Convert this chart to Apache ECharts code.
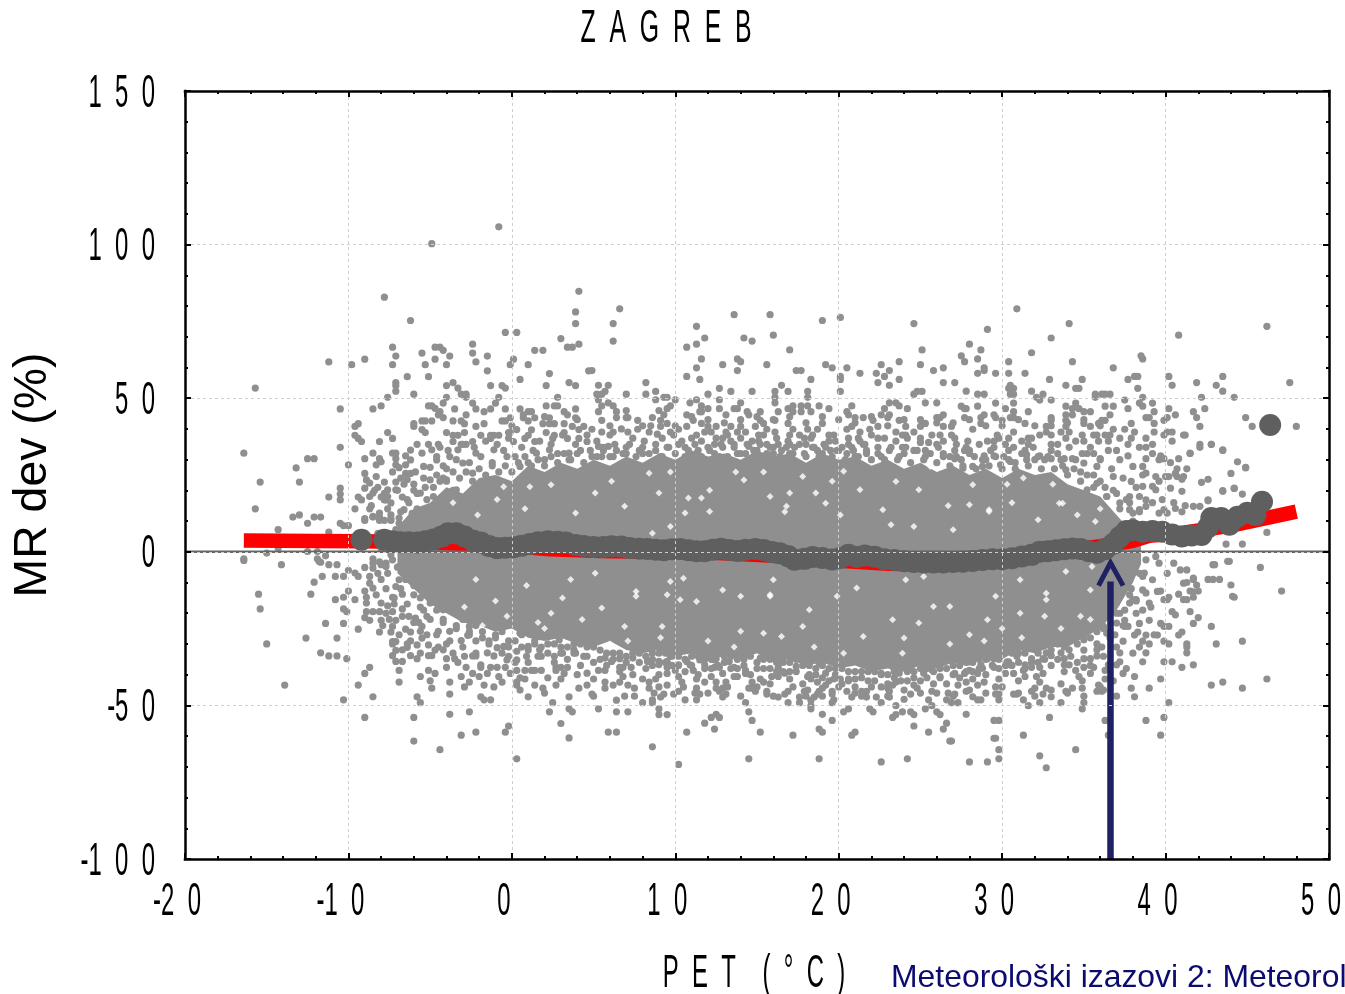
<!DOCTYPE html>
<html><head><meta charset="utf-8">
<style>html,body{margin:0;padding:0;background:#fff}#c{width:1345px;height:994px}</style>
<script src="https://cdn.jsdelivr.net/npm/echarts@6/dist/echarts.min.js"></script>
</head><body><div id="c"></div>
<script>
var titleText = 'ZAGREB';
var yAxisName = 'MR dev (%)';
var xAxisName = 'PET (°C)';
var footerText = 'Meteorološki izazovi 2: Meteorol';
var xTicks = [-20,-10,0,10,20,30,40,50];
var yTicks = [150,100,50,0,-50,-100];

var upperLeft = [-7.8,82.9,-6.2,75.3,4.1,84.8,3.9,78.1,3.9,74.3,-0.4,71.4,0.3,71.4,3.0,69.4,-2.4,67.6,4.1,67.6,3.4,66.6,3.7,66.6,-7.3,66.6,-4.7,66.6,-4.4,66.6,-4.2,65.6,-5.5,64.7,-7.1,63.7,-3.8,63.7,-2.4,64.7,-1.5,63.7,1.4,65.6,1.9,65.6,-4.7,62.7,0.1,62.7,-9.0,62.7,-11.2,61.8,-9.8,60.9,-7.3,60.9,-5.3,60.9,-4.0,60.9,-2.2,61.8,-0.1,60.9,1.0,60.9,-1.5,58.9,4.7,58.9,2.3,58,-6.4,57,-5.1,57,0.5,56.1,-7.1,55.1,-7.1,54.1,-7.1,52.3,-4,54.1,-3.6,55.1,-1.3,54.1,-0.6,54.1,-0.4,53.3,2.1,54.1,3.5,55.1,3.9,54.1,-15.7,53.3,-3.3,53.3,-3.1,51.3,-2.8,51.3,-2.8,50.3,-6,51.3,-4,50.3,-7.6,50.3,-0.8,50.3,2.8,50.3,-4.2,48.4,-2.4,48.4,-1,48.4,-8,47.5,-8.5,46.5,-10.5,46.5,-5.1,47.5,-4.9,47.5,-4.7,46.7,-3.5,46.5,-2.2,46.5,-1.7,45.6,-1.3,46.5,-0.4,46.5,0.5,46.5,2.1,47.5,2.6,47.5,2.8,47.5,3.9,46.5,1,45.6,1.2,45.6,3.2,45.6,3.4,44.6,-4.4,45.6,-4.5,44.6,-2.8,44.6,-4.2,43.7,0.7,44.6,0.7,43.6,-0.1,43.6,-0.6,42.6,-0.4,42.6,1.4,43.6,1,42.6,2.3,43.6,3.9,43.6,-5.5,42.6,-5.3,42.6,-4.9,42.6,-3.6,42.6,-3.1,42.6,-2.9,41.7,-1.7,41.7,-2.2,40.8,-9.4,41.7,-9.6,40.8,-6,41.7,-6,40.8,1.9,41.7,2.3,41.7,2.6,41.7,3.2,41.7,0.3,39.8,-0.1,38.8,-0.2,38.8,-5.5,39.8,-5.3,38.8,-7.6,38.8,-4,38.8,-2.9,38.8,-9.6,37.9,-9.4,36.9,-9.2,35.9,-7.3,36.9,-3.6,37.9,-3.3,37.9,-3.6,35.9,-1.9,37.9,-1.3,37.9,-1.1,37.9,-0.8,37.9,-1.3,36.9,1.2,39.7,1,37.9,0.8,36.9,1.4,35.9,2.1,38.8,2.6,37.9,2.5,36.9,3.2,38.8,3.4,36.9,3.7,40.8,4.1,39.8,4.4,40.8,4.1,36.9,4.6,35.9,-8.1,35.9,0.1,35.9,-2.4,35.9,-2.8,35,-3.1,35,-3.3,33.2,-5.8,35,-5.1,35,-4.9,33.2,-4.5,35,-4.4,34,-10.5,34,-16.4,32.1,-6.2,33.1,-5.5,32.1,-8.5,32.1,-7.3,32.1,-7.1,32.1,-6.5,31.2,-9,30.3,-12.5,30.3,-12.1,30.3,-8.1,30.3,-8,29.3,-8.3,28.3,-10,28.3,-13.2,27.3,-7.1,30.3,-7.1,28.3,-6.5,28.3,-6.9,27.4,-9,25.5,-8.3,24.5,-6.5,25.5,-6.2,25.5,-6.4,23.5,-15.4,22.7,-13,22.7,-8.9,23.4,-8.7,22.4,-9,20.7,-7.8,22.7,-7.1,22.7,-7.1,20.2,-7.6,20.2,-10.5,20.7,-10.5,18.8,-10.5,16.9,-11.2,17.8,-9.4,17.8,-9.2,16.9,-8.7,18,-8.5,19.1,-8,17.8,-7.8,16.9,-7.4,15.9,-6.7,17.8,-15.7,14,-9.6,14,-8.7,14,-7.6,14,-13.4,11.3,-13,12,-12.1,11.3,-11.7,11.3,-9,10.8,-8.5,11.3,-8.1,11.3,-7.4,10.8,-6.2,29.9,-5.4,27.8,-4.6,29.9,-3.8,31,-3,28.9,-2.2,32.1,-1.1,33.2,-0.3,31,0.5,27.8,1.5,32.1,2.3,33.2,3.5,32.1,-5,23.4,-4,23.4,-5.6,19.1,-6.6,13.7,-5,13.7,-3.4,20.2,-2.4,25.6,-1.7,21.3,-0.9,23.4,1.1,24.5,3.1,23.4,-7.7,16.9,-8.1,12.6,-4.9,100.3,-0.8,105.8];

var upperMid = [6.6,79.1,6.2,74.3,6.2,68.6,11.3,73.4,13.6,77.2,15.8,77.2,19,75.3,20.1,76.3,24.6,74.3,16,70.5,11.8,69.6,14.2,69.6,14.7,68.6,10.7,66.6,11.3,67.6,17,65.7,25.1,65.7,11.6,62.8,13.8,62.8,14,61.9,12.9,60.9,15.6,60.9,19.2,60.9,19.6,59.9,23.7,61.9,25,60.9,11.3,59.9,13.8,59,20.5,59.9,22.6,60.9,17.4,59,17.7,59,23.1,59,22.3,58.1,22.8,57.1,22.4,55.1,23.1,54.2,23.7,56.1,25.8,59,26.4,59.9,26.4,55.1,21.3,58.1,10.7,57.1,11.5,56.1,20.1,57.1,20.1,56.1,18.3,56.1,4.9,59,8.2,55.1,5.3,54.2,5.9,54.2,16.5,54.2,12.7,53.2,13.4,52.2,14.7,52.2,8.8,52.2,8.2,51.3,7,51.3,16.1,52.2,16.9,52.2,18.1,52.2,20.1,52.2,5.2,51.3,5.5,51.3,5.7,52.2,12,51.3,16.1,50.3,18.1,50.3,25.1,52.2,24.8,52.2,24.6,51.3,9.3,50.3,9.5,50.3,8.8,49.5,10,49.5,11.3,49.5,12.7,49.5,5.3,49.5,5.9,48.5,5.5,47.5,6.2,47.5,10.9,48.5,14,48.5,16.1,48.5,25.3,48.5,26,48.5,23.1,48.5,23.5,48.5,23.7,47.5,9.7,47.5,9.5,46.6,11.6,47.5,12,46.6,11.6,45.6,11.5,45.6,12.7,46.6,13.6,46.6,13.8,46.6,16.9,46.6,17.2,47.5,17.2,45.6,17.7,47.5,17.7,45.6,18.1,47.5,18.3,45.6,18.8,47.5,19.4,46.6,20.8,47.5,20.5,45.6,20.6,44.6,22.8,46.6,24.2,46.6,5.3,45.6,6.4,45.6,6.4,43.7,9.3,44.6,8.6,43.7,7,43.7,7.1,43.7,10.7,44.6,13.1,44.6,14.4,45.6,14.5,44.6,15.2,45.6,16.3,45.6,22.6,44.6,23.1,44.6,23,43.7,21,43.7,21.5,43.7,22.1,42.8,26.4,44.6,26,43.7,26.2,43.7,5.5,42.8,7.7,42.8,9.1,42.8,11.1,42.8,15.2,42.8,16.1,42.8,23.7,42.8,9.5,41.8,11.6,41.8,16.9,41.8,19,41.8,25.3,41.8,25,40.8,26.4,40.8,14.9,40.8,15.4,41.8,9.1,40.8,12,40.8,12.5,40.8,13.4,40.8,14,40.8,20.8,40.8,22.4,40.8,24.1,40.8,4.9,39.9,7.7,39.9,10.7,40.8,15.6,39.9,17.2,39.9,18.1,39.9,18.7,39.9,20.5,39.9,21.9,39.9,12.2,39,13.1,39,13.8,39,14.3,39,5.5,39,6.2,39,7.1,39,8.4,39,8.9,38.3,9.7,39,10.2,39.9,16.1,39,19.4,38,19.7,38,21.3,39,24.6,39,23.9,38,11.3,38,12.9,37,15.1,38,17,38,17.9,37,18.3,37,22.4,37,21.2,37,26.2,38,24.1,38,5.3,34.3,5.9,34.3,11.6,36,12.4,35,13.4,36,14.5,34.3,15.1,36,15.6,35,16.3,35,17,35,19.4,36,20.6,35,21.5,35,23.5,36,25,35.6,25.5,35.6,26,35,18.5,34,24.1,34,5.5,31,6.2,31,7,32,8,32,9.1,31,10.6,31,11.3,32,12.7,31,13.8,32,14.9,31,16,32,17,32,17.9,32,19,32,19.9,33,20.5,32,21,31,21.7,32,22.6,31,23.7,31,25.3,31,26.4,32];

var upperRight = [30.9,79.1,34.1,74.3,46.2,73.4,29.1,72.4,40.8,70.5,33,69.6,28,67.6,28.7,65.7,31.8,64.8,27.5,63.8,27.7,61.9,28.5,62.8,38.5,63.8,38.6,62.8,30.4,61.9,34.3,61.9,28.9,59.9,28.9,59,28.5,58.1,36.8,59.9,29.6,58.1,30.4,58.1,31.4,58.1,38.1,57.1,38.3,57.1,37.7,56.1,40.2,57.1,43.5,57.1,27.1,55.1,32.9,56.1,34.9,56.1,41.9,55.1,47.6,55.1,30.5,54.2,33.9,54.2,40.4,54.2,43.1,54.2,30.4,53.2,30.7,53.2,34.5,53.2,34.7,53.2,38.3,53.2,27.8,52.3,31.8,52.3,30.5,51.3,30.7,51.3,43.5,52.3,28.5,51.3,28.9,51.3,32.5,51.3,35.7,51.3,36.1,51.3,36.3,51.3,36.6,51.3,32.1,50.3,32.3,49.4,42.2,50.3,44.2,50.3,38.6,50.3,35.7,50.3,33,49.4,37.5,49.4,29.6,48.4,30.7,48.4,34.5,48.4,38.4,48.4,39.2,48.4,38.6,47.4,27.5,47.4,28.5,47.4,27.7,46.6,27.8,46.6,33.9,47.4,36.3,47.4,36.8,47.4,30.2,46.6,34.3,46.6,34.7,46.6,37.7,46.6,40.2,46.6,42.4,46.6,30.7,45.6,31.6,45.6,35,45.6,35.4,45.6,39.3,45.6,41.7,45.6,28.9,44.6,29.5,44.6,33.9,44.6,34.3,44.6,36.6,44.6,40.6,44.6,27.7,43.7,28.7,43.7,29.6,43.7,30.5,43.7,30.7,43.7,33,43.7,33.9,42.8,38.8,43.7,39,43.7,40.1,43.7,39.9,42.8,41.9,43.7,44.9,43.7,28.7,41.8,30,42.8,31.4,41.8,33,42.8,36.1,42.8,36.3,42.8,35.9,41.8,37.9,41.8,39.3,41.8,26.9,40.8,32.7,40.8,35,41.8,35.4,40.8,37.5,39.9,42.1,40.8,45.3,40.8,48,40.8,28.2,39.9,33.9,40.8,30.7,39,32.7,39,33,38,33.6,39,34.1,39,36.8,39.9,36.6,38,38.1,39,39.3,39,39.9,38,40.1,39,40.4,39,26.9,38,27.1,37,29.8,37,30.4,37,31.6,37,31.8,37,33.9,37,34.9,38,35.6,38,35.8,38,36.3,38,37.9,37,38.8,37,41.2,38,29.1,36,29.5,36,31.6,35,34.5,36,35,36,35.9,36,36.5,36,37.2,37,40.4,36,30.2,35,33.4,35,35.4,34,37.7,35,38.8,34,39.2,35,42.1,35,42.1,34,42.8,35,27.8,34,29.5,34,30.7,34,31.4,33,33,33,34.3,30.3,34.9,32,36.5,33,37,33,38.4,34,39.2,32,43.5,33,27.1,33,28,33,27.7,33,27.1,30.3,28.9,31.2,29.5,31.2,32.3,31.2,33,30.3,33.8,30.3,35.6,32,36,30.3,37.7,31.2,38.8,30.3,39.7,31.2,39.9,30.3,41.5,32,40.8,30.3,44.4,29.3,44.9,27.3,44,25.5,40.6,25.5,41.1,24.5,40.2,24.5,41,23.6,42.6,23.6,42.2,22.6,43.5,19.7,44.2,20.6,44.7,18.8,40.3,20.7,41,19.7,41.7,14.8,41.2,15,40.6,14.1,42.6,16.9,35.8,27.8,37.2,30,38.6,27.8,39.4,24.5,35.8,22.3,36.8,24.5,37.9,22.9,38.6,21.3,39.4,20.2,37.8,18,36.4,18,35.2,20.2,38.8,16.9,37.2,15.9,39.9,13.7,38.4,13.7,37.8,13.7,27.6,27.2,28.2,27.8,28.8,27.8,29.9,28.3,30.5,29.4,31.5,31.6,32.2,31,33.9,26.7,35,28.9];

var lowerLeft = [-16.4,-2.8,-14.1,-4.2,-11.8,-3.1,-11.2,-4.2,-10.7,-4.2,-10,-6,-9.6,-6.9,-9.4,-8,-9,-5.1,-11.6,-8,-10.8,-8,-10.3,-8,-12.1,-9.9,-15.5,-13.8,-12.3,-13.8,-10.3,-14.8,-10,-12.8,-10.8,-15.6,-9.6,-15.6,-15.4,-18.6,-10.3,-18.6,-10.1,-19.5,-11.4,-23.3,-10.3,-23.3,-9,-12.8,-8.9,-14.8,-8.9,-16.7,-8.7,-8,-8.5,-11.8,-8.7,-10.2,-8.9,-19.5,-8.5,-19.5,-8.1,-19.5,-8,-16.7,-7.6,-17.6,-7.3,-14.8,-6.9,-9.1,-7.1,-11.3,-6.7,-13.8,-9,-21.4,-8.7,-22.3,-8,-22.3,-9.4,-25.2,-8.1,-26.1,-7.3,-19.5,-6.7,-18.6,-6.3,-21,-5.9,-21.6,-7.1,-22.3,-7.3,-24.3,-7.4,-26.1,-6.5,-25.2,-6.2,-26.1,-12.6,-28.1,-10.7,-28.1,-15,-30,-11.7,-32.9,-11.2,-33.9,-10.7,-33.9,-10.1,-34.8,-7.3,-29.2,-7.1,-29.2,-7.3,-30,-7.1,-32.1,-7.3,-33.8,-6.7,-31.9,-6.4,-30,-6.4,-31.1,-7.1,-35.7,-6.7,-35.7,-6.2,-33.8,-5.8,-34.8,-5.8,-30.3,-5.5,-24.3,-5.5,-28.1,-5.1,-30.3,-4.5,-31,-4.2,-31.9,-4,-30,-3.6,-33,-5.1,-33.8,-4.9,-33.8,-3.5,-34.8,-4,-34.8,-5.6,-25.9,-4.5,-25.9,-3.8,-25.9,-3.1,-28.9,-2.2,-29,-2.7,-27.2,-2.6,-24.3,-6.9,-38.6,-6.9,-42.4,-8.7,-37.6,-9,-39.6,-9.4,-43.4,-5.1,-38.6,-4.7,-39.6,-5.6,-40.6,-4,-37.6,-3.8,-42.4,-4.9,-44.4,-3.1,-40.6,-2.8,-37.6,-2.6,-42.4,-2.4,-39.6,-2,-40.6,-1.7,-43.4,-13.9,-43.4,-10.3,-48.2,-8.5,-47.2,-9,-53.9,-6,-53.9,-6,-61.6,-4.4,-64.4,-3.8,-52.9,-3.8,-46.3,-5.8,-47.2,-5.6,-49.1,-2.6,-52.1,-3.1,-59.7,-2.2,-58.7,-0.4,-58.7,-0.2,-56.7,0.3,-67.4,-1.9,-47.2,-1.7,-48.2,-1.3,-48.2,-2.4,-33.9,-2.2,-33.9,-1.9,-36.8,-1.9,-37.6,-1.5,-32.9,-1.1,-33.9,-0.9,-31.2,-1.5,-39.6,-1.3,-37.6,-0.9,-37.6,-0.8,-40.6,-0.6,-42.4,-0.4,-37.6,-0.1,-39.6,0.3,-38.6,0.3,-42.4,0.3,-43.4,0.8,-38.6,0.8,-41.4,1.2,-38.6,1.4,-38.6,1.8,-38.6,1.4,-43.4,1.9,-44.4,1,-47.2,2.7,-37.6,2.7,-38.6,3,-37.6,3.4,-37.6,3.2,-39.6,3,-41.4,2.7,-43.4,4.1,-44.4,3.5,-47.2,2.5,-49.1,2.3,-52.1,3.5,-51.1,3.7,-52.1,3,-55.9,3.5,-60.6,4.6,-39.5,4.6,-43.4,-0.5,-30.8,-0.2,-34,0.3,-35.2,0.9,-34,1.6,-34,2.6,-34,3.1,-33,3.9,-33,4.4,-34,-0.3,-35.2,0.3,-32.4,1,-30.8,1.7,-31.9,3.8,-31.9,-5,-16.7,-4.2,-18.9,-3.4,-16.7,-2.6,-21,-1.6,-22.1,-0.5,-24.3,0.5,-26.5,1.7,-27.6,2.9,-28.6,4.2,-27.6,-6.2,-9.1,-5.4,-5.9,-7.7,-4.8,-8.5,-3.7];

var lowerMid = [5.3,-51.1,6.4,-48.3,6.4,-52.1,7.1,-52.1,5.9,-58.7,6.4,-58.7,8.6,-63.5,8,-49.1,8.6,-48.2,8.6,-49.1,9,-51.1,9,-53,9.5,-53,10.2,-69.2,10.7,-58.7,11.8,-55.8,12.2,-53.9,12.5,-52.9,12.7,-53.9,12.4,-57.7,14.3,-49.1,14.5,-52.1,14.7,-54.9,15.2,-58.7,14.5,-67.4,17.2,-59.7,18.8,-57.7,19,-58.7,18.8,-67.4,19,-52.9,19.6,-54.9,18.3,-51.1,18.3,-50.1,20.3,-52.1,20.6,-51.1,21.9,-51.1,22.1,-52.1,22.6,-49.1,23.5,-50.1,23.3,-53.9,23.5,-53,23.9,-52.1,24.4,-52.1,24.6,-53,24.6,-56.7,25.5,-58.7,25.3,-51.1,25.7,-50.1,26,-52.1,26.2,-53,26.6,-55.8,26.4,-57.7,26.8,-61.6,20.8,-59.7,21,-58.7,22.6,-68.4,24.2,-67.4,10.6,-48.2,11.3,-48.2,11.3,-44.4,11.5,-46.3,11.3,-41.4,10.2,-45.4,9.9,-46.3,9.5,-43.4,9.3,-46.3,9.1,-47.3,8.4,-44.4,8.4,-42.4,8.8,-41.4,8,-41.4,7.5,-44.4,7.1,-43.4,6.6,-42.4,6.2,-43.4,5.7,-42.4,5.7,-44.4,5,-41.4,4.9,-46.3,6.8,-40.6,5.3,-38.6,5.7,-38.6,6.6,-34.8,6.6,-37.6,6.8,-37.6,7.3,-37.6,6.1,-35.7,8.4,-35.7,9,-35.7,9,-36.7,9.5,-35.7,9.5,-37.6,9.5,-39.6,10.2,-36.8,10,-38.6,10.2,-40.6,10.4,-42.4,10.7,-35.7,10.9,-36.8,11.1,-38.6,11.8,-36.8,12.4,-37.6,12.5,-34.8,12.7,-37.6,12.9,-39.6,13.1,-42.4,12.9,-44.4,12.5,-42.4,12.2,-40.6,11.8,-42.4,12.5,-44.4,12.7,-45.4,13.1,-46.3,12.9,-47.3,13.6,-40.6,13.8,-40.6,14.3,-38.6,14.3,-39.6,13.3,-35.7,13.6,-37.6,14.7,-44.4,14.5,-44.4,14.9,-45.4,14.7,-42.4,15.2,-41.4,15.4,-42.4,15.9,-40.6,16.3,-40.6,16.3,-37.6,16.7,-39.5,17,-41.4,15.6,-45.4,15.6,-46.3,16.3,-47.3,16.7,-46.3,16.9,-45.4,16.9,-49.1,17.6,-47.3,17.6,-49.1,17.9,-45.4,18.1,-40.6,18.3,-41.4,18.7,-42.4,19.2,-43.4,19,-44.4,18.8,-45.4,18.7,-46.3,18.5,-47.3,19.6,-45.4,19.6,-46.3,19.6,-49.1,19.7,-48.2,18.3,-48.3,19.2,-39.5,19.7,-41.4,20.1,-41.4,20.6,-41.4,21,-41.4,20.5,-45.4,20.8,-47.3,21.4,-45.4,21.7,-45.4,21.7,-47.3,22.3,-47.3,22.6,-39.6,23,-44.4,23.3,-43.4,23.5,-42.4,23.1,-45.4,23.1,-47.3,24.6,-43.4,24.8,-44.4,24.4,-46.3,25.7,-45.4,25.5,-48.2,26.6,-48.2,26.2,-40.6,25.7,-38.4,25.2,-39.5,23.7,-39.5,24.4,-37.3,23.3,-37.3,5.7,-34.6,7.4,-34.6,8.3,-35.7,8.6,-33,9.7,-34,11.5,-35.2,12.4,-35.2,14.4,-33.5,15.2,-34.6,16.2,-35.2,17.4,-37.3,18.8,-36.2,21.7,-33,22.2,-36.8,25.2,-37.3];

var lowerRight = [43,-4.2,45.8,-5.1,43.9,-3.1,42.6,-9,42.9,-9,43.3,-9,44,-10.8,44.2,-14.8,47.1,-12.8,41.3,-10,41.7,-9,41.9,-10.8,42,-12.8,41.5,-12.8,41.3,-15.6,41.7,-14.8,41.1,-15.6,40.8,-13.8,40.2,-14.8,39.9,-15.6,39.7,-12.8,41.5,-19.5,42,-21.4,41.7,-23.3,42.8,-24.3,40.4,-19.5,40.6,-20.5,39,-22.3,38.4,-23.3,39.7,-23.3,39.9,-24.3,40.2,-24.3,37.5,-22.3,37.5,-24.3,37.7,-24.3,41,-26.1,40.8,-27.1,39.5,-27.1,39.9,-29.1,40.2,-30,39,-30,38.8,-27.1,38.3,-26.1,38.1,-27.1,37.4,-29.1,38.6,-29.1,38.4,-31,38.8,-32.9,38.6,-35.8,41.3,-30,41.3,-31,41.3,-32.9,43.1,-30,44.7,-29.1,39.9,-35.8,40.4,-35.8,41,-37.6,41.7,-36.8,42.8,-43.4,43.5,-42.4,44.7,-44.4,46.2,-41.4,39.7,-41.4,39,-44.4,38.1,-40.6,37.4,-39.6,37.9,-44.4,38.1,-47.2,40.2,-49.1,39.9,-53.9,38.8,-54.9,39.7,-59.7,36.3,-54.9,36.5,-59.7,34.5,-64.4,32.3,-66.4,32.7,-70.3,32.9,-53.9,31.3,-59.7,29.8,-54.9,29.5,-54.9,29.5,-60.7,29.6,-60.7,29.8,-64.4,29.8,-67.4,29.1,-68.4,28,-68.4,26.9,-61.6,27.8,-52.9,35,-49.1,34.9,-51.1,33.6,-49.1,32.3,-49.1,31.6,-50.1,31.3,-48.2,33,-47.2,32.5,-46.3,32.7,-44.4,33.9,-45.4,34.3,-44.4,34.9,-44.4,35.9,-43.4,35.8,-45.4,36.1,-45.4,36.3,-41.4,36.3,-38.6,34.7,-40.6,34.5,-38.6,35,-37.6,35.4,-39.6,35.6,-37.6,30.7,-46.3,30.9,-46.3,29.8,-46.3,29.6,-46.3,29.8,-48.2,28.5,-48.2,28.7,-48.2,28.2,-47.2,27.1,-46.3,26.9,-49.1,27.3,-49.1,27.3,-43.4,27.8,-45.4,28.5,-43.4,28.9,-42.4,28.2,-41.4,27.8,-42.4,29.8,-41.4,31.8,-45.4,32,-44.4,32.3,-42.4,32.1,-40.6,31.4,-40.6,27.1,-39.6,27.7,-39.6,28,-38.6,28.5,-39.6,28.7,-36.8,29.5,-37.6,30.2,-39.6,30.7,-39.6,30.5,-36.8,30.4,-35.8,31.3,-38.6,31.4,-36.8,31.8,-37.6,32.3,-37.6,32.5,-39.6,33.8,-36.8,34.1,-36.8,33.8,-34.8,33.6,-32.9,34.1,-31.9,33,-33.8,32.5,-34.8,32.7,-32.9,31.8,-34.8,35,-34.8,35.4,-34.8,35.8,-33.9,35.8,-31.9,36.1,-31,36.5,-36.8,37,-36.8,37.2,-35.8,37.2,-32.9,37,-31,28,-33.9,28.2,-33.9,29.1,-34.8,29.5,-34.8,30.3,-35.8,30.9,-34,28.8,-37.9,37,-16.7,37.2,-20,37,-23.2,36.2,-24.3,37.8,-16.7,38.8,-13.4,39.2,-9.1,37.8,-9.1,38.7,-6.9,39.5,-12.9,38.2,-15.6,36.4,-26.5,35,-28.6,33.9,-28.6];

var nearZero = [-14.3,7.2,-12.5,9.3,-11.2,6.4,-10.5,9.3,-10.3,8.5,-10,8.5,-9,10.2,-8.5,11.5,-8.1,10.2,-7.8,10.2,-7.4,10.2,-15,-0.4,-14.3,1.2,-12.5,0.1,-11.9,0.1,-16.4,-2.3,-11.9,-2.3,-11.7,-3.4,-11.4,-1.3,-8.5,-2.3,-8.1,-3.3,-8,-4.2,-8.5,-5.3,-7.1,7.2,-6.9,9.3,-6.1,9.9,-6.9,-4.8,-7.3,-2.6,-7.7,-3.7,-6.6,-3.7,43.7,2.5,44.7,2.5,46.2,6.3,42.6,16.6,43.5,19.9,44.2,20.7,44.9,27.5,43.5,33.2,42.8,35,41.5,32.1,41.1,38,42.1,14.8,40.1,12.6,42.9,-4.2,44.1,-14.5,43.8,-3.1,41.7,-8.6,41.3,-5.9,40.9,-5.9,41.1,-10.2,40.1,-7,40.5,-3.7,41.7,-13,40.1,-15.6,39,-16.7,38,-3.7,38.4,-7,38.8,-2.6,39.4,-1.5,39.6,-3.7,38.6,-12.4,38,-15.6,39.6,12.6,38.8,14.8,38,12.6,39.2,21.3,38.8,25.6,38,27.8,39.6,30,40,24.5,40.7,24.5,-7.4,5,-6.9,2,-6.5,6,-6,9,-7.4,-1,-7,-5,-6.5,-9,-6,-14,-5.6,-18,-5.2,-21,-5.7,-23,-8.2,6,-8,1,-8.2,-7,-7.7,-12,-7.2,-15,-6.7,-21,-7.7,-20,-7.9,-24,-6.8,13,-6.3,16,-5.8,19,-5.3,21,-4.8,18,-4.4,23,-6,22,-7.6,18,-8.4,20];

var beltTop = [-4.6,31,-4.2,28,-3.9,33,-3.4,30,-3,35,-2.6,29,-2.3,34,-1.9,31,-1.6,36,-1.2,29,-0.9,35,-0.5,33,-0.2,37,0.2,31,0.6,34,1,29,1.3,33,1.7,36,2,30,2.4,35,2.8,32,3.1,38,3.5,30,3.9,35,4.2,33,4.6,38,4.9,31,5.2,36,5.6,33,6,38,6.3,35,6.7,40,7,34,7.4,37,7.8,33,8.1,36,8.5,41,8.8,33,9.2,37,9.5,34,9.9,38,10.2,35,10.6,34,11,37,11.4,33,11.8,39,12.1,33,12.5,37,12.9,34,13.2,38,13.6,35,14,37,14.3,32,14.7,36,15,33,15.4,38,15.8,34,16.2,37,16.5,33,16.9,36,17.3,34,17.6,38,18,35,18.4,38,18.7,33,19.1,35,19.5,33,19.8,36,20.2,34,20.6,37,20.9,33,21.3,36,21.7,33,22,38,22.4,34,22.8,37,23.1,33,23.5,39,23.9,34,24.2,37,24.6,33,25,37,25.3,33,25.7,38,26.1,34,26.4,36,26.8,31,27.2,35,27.5,30,27.9,36,28.3,31,28.6,35,29,30,29.3,33,29.7,38,30.1,31,30.4,33,30.8,29,31.2,36,31.5,30,31.9,34,32.3,38,32.6,30,33,35,33.4,32,33.7,28,34.1,34,34.5,30,34.8,26,35.2,32,35.6,25,36,30,36.3,21,36.7,27,37,19,37.4,24,37.8,16,38.2,21,38.6,25,-6.6,22,-6,20,-5.4,24,-4.8,21,-4.2,24,-3.6,26,-7.4,12,-7,20,-6.4,17,-5.8,14,-5.2,17,-4.6,25,-7.3,26,-6.8,24,-5.9,26,-5,27.5,-4,27,-8.2,21,-8.6,15,-7.8,19,-6.9,11,-6.1,12.5,-5.3,11,39.8,17,39.2,16,40.5,16,41,13,38.4,18,39.6,23,40.3,29,40.7,27,41.3,27];

var beltTopEdge = [-4,23,-3.6,20,-3.2,24,-2.8,26,-2.4,23,-2,27,-1.6,25,-1.2,28,-0.8,26,-0.4,28,0,26,0.4,29,0.8,31,1.2,28,1.6,30,2,28,2.4,31,2.8,29,3.2,32,3.6,30,4,32,4.4,29,4.8,33,5.2,31,5.6,34,6,31,6.4,33,6.8,32,7.2,35,7.6,31,8,34,8.4,32,8.8,35,9.2,31,9.6,34,10,32,10.4,36,10.8,33,11.2,35,11.6,31,12,34,12.4,32,12.8,35,13.2,31,13.6,34,14,32,14.4,35,14.8,33,15.2,35,15.6,32,16,34,16.4,31,16.8,34,17.2,32,17.6,35,18,31,18.4,34,18.8,31,19.2,34,19.6,31,20,33,20.4,30,20.8,34,21.2,31,21.6,35,22,30,22.4,32,22.8,30,23.2,34,23.6,30,24,32,24.4,29,24.8,33,25.2,30,25.6,32,26,29,26.4,31,26.8,28,27.2,31,27.6,28,28,32,28.4,27,28.8,30,29.2,28,29.6,31,30,27,30.4,30,30.8,27,31.2,32,31.6,28,32,30,32.4,27,32.8,31,33.2,27,33.6,30,34,25,34.4,27,34.8,23,35.2,25,35.6,21,36,23,36.4,18,36.8,20,37.2,14,37.6,17,38,10,38.4,13,0,41,2,44,4,43,6,41,7,46,8,41,9,46,10,41,11,44,12,43,13,42,14,43,15,44,16,43,17,44,18,42,19,44,20,43,21,42,22,44,23,41,24,43,25,43,26,42,27,42,28,43,29,41,30,41,31,43,32,41,33,41,34,42,35,43,36,41];

var beltBottom = [-5.4,-19,-5,-22,-4.6,-27,-4.2,-23,-3.8,-29,-3.4,-25,-3,-31,-2.6,-27,-2.2,-33,-1.8,-28,-1.4,-30,-1,-27,-0.6,-33,-0.2,-29,0.2,-36,0.6,-31,1,-36,1.4,-30,1.8,-34,2.2,-30,2.6,-36,3,-31,3.4,-35,3.8,-30,4.2,-37,4.6,-31,5,-36,5.4,-32,5.8,-37,6.2,-33,6.6,-39,7,-34,7.4,-40,7.8,-33,8.2,-38,8.6,-35,9,-40,9.4,-33,9.8,-37,10.2,-34,10.6,-39,11,-34,11.4,-40,11.8,-35,12.2,-38,12.6,-33,13,-36,13.4,-34,13.8,-38,14.2,-35,14.6,-40,15,-36,15.4,-38,15.8,-35,16.2,-39,16.6,-36,17,-39,17.4,-35,17.8,-43,18.2,-37,18.6,-40,19,-37,19.4,-42,19.8,-38,20.2,-43,20.6,-39,21,-44,21.4,-39,21.8,-42,22.2,-39,22.6,-44,23,-40,23.4,-41,23.8,-38,24.2,-42,24.6,-39,25,-42,25.4,-38,25.8,-43,26.2,-38,26.6,-43,27,-37,27.4,-41,27.8,-36,28.2,-39,28.6,-35,29,-40,29.4,-33,29.8,-38,30.2,-32,30.6,-37,31,-33,31.4,-38,31.8,-31,32.2,-36,32.6,-30,33,-37,33.4,-30,33.8,-39,34.2,-28,34.6,-36,35,-27,35.4,-37,35.8,-26,36.2,-34,36.6,-20,36.9,-27,37.2,-14,37.5,-19,37.9,-12,38.2,-20,-7.6,-7,-7.2,-17,-6.8,-12,-6.4,-17,-6,-11,-5.6,-15,-5.2,-11,-4.8,-14,-4.4,-18,-6.6,-6,-6,-23,-5.2,-27,-4.7,-32,-3.3,-36,-2.9,-34,-8.3,-14,-8,-9,-7.5,-22,-6.9,-27,-6.2,-29,-5.6,-33,39.1,-18,38.6,-19,39.3,-27,38,-33,37.6,-38,36.8,-42,36.2,-45,34.9,-42,33.6,-43,31,-42,29.6,-44,26.7,-46,24,-48,21.4,-47,18.1,-45,15.8,-43,13.2,-44,11.2,-46,8.7,-46,6.9,-47,4,-40,2.2,-41,0.5,-45,-1.1,-44,-2.9,-44,-5,-42];

var beltBottomEdge = [-4.6,-19,-4.2,-22,-3.8,-19,-3.4,-24,-3,-22,-2.6,-26,-2.2,-24,-1.8,-26,-1.4,-29,-1,-28,-0.6,-26,-0.2,-31,0.2,-29,0.6,-27,1,-32,1.4,-29,1.8,-31,2.2,-33,2.6,-30,3,-33,3.4,-31,3.8,-33,4.2,-30,4.6,-34,5,-31,5.4,-35,5.8,-33,6.2,-35,6.6,-33,7,-36,7.4,-33,7.8,-36,8.2,-34,8.6,-37,9,-33,9.4,-36,9.8,-34,10.2,-37,10.6,-35,11,-37,11.4,-34,11.8,-38,12.2,-35,12.6,-37,13,-34,13.4,-38,13.8,-35,14.2,-37,14.6,-34,15,-38,15.4,-35,15.8,-38,16.2,-36,16.6,-39,17,-36,17.4,-39,17.8,-37,18.2,-40,18.6,-38,19,-41,19.4,-38,19.8,-40,20.2,-38,20.6,-42,21,-39,21.4,-41,21.8,-39,22.2,-42,22.6,-40,23,-43,23.4,-39,23.8,-42,24.2,-39,24.6,-41,25,-38,25.4,-41,25.8,-39,26.2,-41,26.6,-38,27,-40,27.4,-37,27.8,-39,28.2,-36,28.6,-38,29,-35,29.4,-37,29.8,-35,30.2,-37,30.6,-33,31,-36,31.4,-33,31.8,-36,32.2,-33,32.6,-35,33,-32,33.4,-35,33.8,-31,34.2,-34,34.6,-30,35,-32,35.4,-28,35.8,-30,36.2,-25,36.6,-28,37,-20,37.4,-24,37.8,-14,38.2,-16,38.6,-8,0.5,-41,2,-46,5,-47,7.5,-47,9,-44,10.5,-44,12,-46,14,-47,15,-44,16,-47,17.2,-44,18,-47,19,-47,20,-44,21,-46,22,-44,23,-47,24,-45,25,-46,26,-46,27,-47,28,-45,29,-46,30,-44,31,-46,32,-47,33,-45,34,-46,35,-47,36,-44,37,-47];

var coreX = [-7,-6,-5,-4,-3,-2,-1,0,1,2,3,4,5,6,7,8,9,10,11,12,13,14,15,16,17,18,19,20,21,22,23,24,25,26,27,28,29,30,31,32,33,34,35,36,37,38,38.5];
var coreTop = [8,14,16,21,19,24,25,23,28,26,29,27,30,28,31,29,32,30,33,31,32,30,33,31,32,29,32,30,31,28,30,27,29,26,28,25,27,24,27,25,26,22,20,18,12,6,3];
var coreBottom = [-7,-12,-17,-20,-23,-24,-26,-25,-28,-29,-28,-30,-31,-29,-32,-33,-32,-34,-33,-35,-34,-35,-33,-36,-35,-37,-36,-38,-37,-39,-38,-39,-37,-38,-36,-37,-34,-35,-32,-33,-31,-31,-28,-25,-19,-10,-4];

var coreGaps = [9.7,8.2,10.6,12.6,12.1,13.1,8.6,6,20.1,12,22.7,13.7,23.2,8.8,24.6,8.2,27,7.2,29.2,13.1,32.2,10.4,35.7,9.9,16.8,14.8,19.2,15.8,33.7,15.8,28,15.3,37.3,15.8,16,-9.1,21.1,-11.8,24.1,-9.1,32.7,-13.5,33.9,-6.4,35.5,-4.8,12.9,-12.4,10.5,-8.6,7.6,-12.9,9.5,-14,15.8,-14,29.6,-14.5,31.1,-9.1,6.9,-24.3,7.6,-14.5,11.3,-16.2,10.3,-15.6,15.8,-14.5,15.4,-26.5,16.5,-27.6,17.8,-24.3,23.3,-22.1,24,-28.1,24.9,-23.2,21.5,-27.6,14,-25.9,5.5,-18.3,5.1,-7,9.2,-24.3,18.2,-18.9,25.8,-17.8,25.2,-8,9.7,-9.7,14,-14.5,19.9,-14.5,5.1,19.1,9,19.1,6.9,14.8,10.8,17.5,11.6,17.5,15.8,18,17,19.1,18.6,19.1,21.3,20.2,23.5,22.9,24.9,20.2,25.6,27.8,9.7,26,13.7,26,15.4,26,8.4,25.6,14.2,23.4,20.3,26.2,17.8,24.5,29.2,13.7,33.5,15.8,26.8,-17.8,29.1,-22.1,32.7,-15.6,34.8,-21,35.4,-12.4,32.6,-21,28.2,21.8,30.3,22,31.3,24,2.4,21.8,1.1,21.2,3.9,12.6,-0.5,21.2,-3.6,16,-2.1,12,-0.9,17,0.8,14,-3.8,8,-2.2,-9,-1,-16,0.9,-11,2.4,-20,-2.9,-18,-0.3,-21,1.6,-23,3.1,-15,4.3,-22,3.6,-9,6.1,23,12.1,20,16.7,13,19.6,23,26.7,15,30.6,16,33.1,22,34.6,12,36,14,7.1,-29,12,-29,13.6,-31,18.5,-31,20.3,-33,23.9,-33,26.8,-30,28.9,-29,31.2,-28,33.6,-25,35.4,-22,28,-27,30,-25,31.1,-20,6,-30,9.1,-28,2,-25,-1.8,-24];

var redX = [-16.4,-12,-9,-6,-3.9,0,2.3,6,9,12.3,15.4,18,20.3,23,26,28,29.7,31.7,34.3,36,38,39,41.1,44,46,48];
var redY = [3.7,3.5,3.4,3.1,2.8,1.9,0.8,0.2,0,-0.3,-1.1,-2,-3,-3.9,-4.2,-3.7,-3,-1.3,0.7,1.8,3.6,5.2,6.2,8.5,10.8,13.1];

var zeroX = [-20,50];
var zeroY = [0,0];

var meanX = [-9.2,-7.8,-7.3,-6.8,-6.3,-5.8,-5.3,-4.8,-4.3,-3.9,-3.4,-2.9,-2.4,-1.9,-1.4,-0.9,-0.4,0.1,0.6,1.1,1.6,2.2,2.8,3.3,3.9,4.4,5,5.6,6.1,6.7,7.2,7.8,8.3,8.8,9.3,9.8,10.3,10.8,11.3,11.8,12.3,12.8,13.3,13.8,14.3,14.9,15.4,15.9,16.4,16.9,17.3,17.9,18.4,19,19.6,20.1,20.6,21.1,21.6,22.2,22.8,23.4,24,24.6,25.2,25.8,26.4,27,27.6,28.2,28.8,29.4,30,30.6,31.2,31.8,32.3,32.8,33.3,33.8,34.3,34.8,35.3,35.8,36.3,36.8,37.2,37.6,38,38.6,39.2,39.8,40.4,41,41.6,42.2,42.6,42.8,43.4,43.9,44.4,45,45.5,45.9,46.4];
var meanY = [3.9,3.9,3.4,3.1,3.1,3,3.4,4,5,6,6,5,3.7,3,1.9,1.2,1.3,1.5,2,2.5,3.1,3.4,3.3,3,2.2,1.9,1.6,1.6,1.8,1.7,1.2,1,0.9,0.7,0.5,0.8,0.9,0.5,0.2,0.2,0.7,1,0.6,0.3,0.7,0.9,0.6,-0.1,-0.5,-1.4,-2.6,-2.3,-1.7,-2,-2.5,-2,-1,-1.7,-1.2,-1.6,-2.4,-2.7,-3.1,-3.3,-3.5,-3.5,-3.5,-3.3,-3.2,-3,-2.7,-2.4,-2.4,-2.1,-1.5,-1,0,0.2,0.5,0.8,1.1,0.9,0.2,-0.3,0.8,2.6,4.8,6.8,7,6.5,6.8,6.5,5.6,5,5.3,5.5,8,11,11,8.8,11.4,12.7,12,16.3,41.3];

var arrowShaftX = [36.63,36.63];
var arrowShaftY = [-100,-9.7];
var arrowHeadX = [35.9,36.63,37.4];
var arrowHeadY = [-11,-3.6,-11];

function pairs(a){var o=[];for(var i=0;i<a.length;i+=2)o.push([a[i],a[i+1]]);return o;}
function zip(a,b){return a.map(function(v,i){return [v,b[i]];});}
function spaced(v){
  var s=String(v),neg=s.charAt(0)==='-';
  if(neg)s=s.slice(1);
  return (neg?'-':'')+s.split('').join('  ');
}
var cloud = pairs(upperLeft).concat(pairs(upperMid),pairs(upperRight),pairs(lowerLeft),pairs(lowerMid),pairs(lowerRight),pairs(nearZero),pairs(beltTop),pairs(beltTopEdge),pairs(beltBottom),pairs(beltBottomEdge));
var LF='"Liberation Sans",Arial,sans-serif', GREY='#8f8f8f', DARK='#5f5f5f', NAVY='#1f2163';
var SX=0.52, LS=46;

function axisBase(){return {
  axisLine:{onZero:false,lineStyle:{color:'#000',width:2.5,cap:'square'}},
  axisTick:{inside:true,length:6,lineStyle:{color:'#000',width:2}},
  minorTick:{show:true,splitNumber:5,length:3,lineStyle:{color:'#000',width:2}},
  axisLabel:{show:false}, splitLine:{show:false}, minorSplitLine:{show:false}, z:8
};}
function mk(o,extra){for(var k in extra)o[k]=extra[k];return o;}
var grid0={lineStyle:{color:'#cfcfcf',width:1,type:[3,3]},show:true};

var chart=echarts.init(document.getElementById('c'),null,{renderer:'canvas'});
chart.setOption({
  animation:false, backgroundColor:'#fff',
  textStyle:{fontFamily:LF},
  grid:{left:185,right:16,top:91,bottom:135,containLabel:false,outerBoundsMode:'none'},
  xAxis:[
    mk(axisBase(),{type:'value',min:-20,max:50,interval:10,position:'bottom',splitLine:grid0}),
    mk(axisBase(),{type:'value',min:-20,max:50,interval:10,position:'top'})
  ],
  yAxis:[
    mk(axisBase(),{type:'value',min:-100,max:150,interval:50,position:'left',splitLine:grid0,
      name:yAxisName,nameLocation:'middle',nameRotate:90,nameGap:129,
      nameTextStyle:{fontSize:46.4,color:'#000',fontFamily:LF}}),
    mk(axisBase(),{type:'value',min:-100,max:150,interval:50,position:'right'})
  ],
  graphic:[
    {type:'text',x:666,y:29,scaleX:0.54,silent:true,style:{text:titleText.split('').join('  '),fontSize:LS,fontFamily:LF,fill:'#000',align:'center',verticalAlign:'middle'}},
    {type:'text',x:754,y:974,scaleX:SX,silent:true,style:{text:'P  E  T    (  °  C  )',fontSize:LS,fontFamily:LF,fill:'#000',align:'center',verticalAlign:'middle'}},
    {type:'text',x:891,y:978.5,silent:true,style:{text:footerText,fontSize:31.9,fontFamily:LF,fill:'#0c0c70',align:'left',verticalAlign:'middle'}}
  ],
  series:[
    {type:'custom',name:'core',z:1,silent:true,clip:true,data:[0],
     renderItem:function(p,api){
       var pts=[];
       coreX.forEach(function(x,i){pts.push(api.coord([x,coreTop[i]]));});
       for(var i=coreX.length-1;i>=0;i--)pts.push(api.coord([coreX[i],coreBottom[i]]));
       return {type:'polygon',shape:{points:pts},style:{fill:GREY}};
     }},
    {type:'scatter',name:'gaps',z:2,silent:true,symbol:'diamond',symbolSize:7,itemStyle:{color:'#fff'},data:pairs(coreGaps)},
    {type:'scatter',name:'MR dev',z:3,silent:true,symbolSize:7.2,itemStyle:{color:GREY,opacity:1},data:cloud},
    {type:'line',name:'fit',z:4,silent:true,showSymbol:false,smooth:false,lineStyle:{color:'#ff0000',width:14.5,cap:'butt',join:'round'},data:zip(redX,redY)},
    {type:'line',name:'zero',z:5,silent:true,showSymbol:false,lineStyle:{color:'#666666',width:2.5},data:zip(zeroX,zeroY)},
    {type:'line',name:'shaft',z:6,silent:true,showSymbol:false,lineStyle:{color:NAVY,width:6.5,cap:'butt'},data:zip(arrowShaftX,arrowShaftY)},
    {type:'line',name:'head',z:6,silent:true,showSymbol:false,lineStyle:{color:NAVY,width:5,cap:'butt',join:'miter'},data:zip(arrowHeadX,arrowHeadY)},
    {type:'scatter',name:'mean',z:7,silent:true,symbolSize:22,itemStyle:{color:DARK,opacity:1},data:zip(meanX,meanY)},
    {type:'custom',name:'yLabels',z:9,silent:true,clip:false,data:yTicks,
     encode:{y:0},
     renderItem:function(p,api){
       var v=api.value(0),c=api.coord([-20,v]);
       return {type:'text',x:c[0]-30,y:c[1]+3,scaleX:SX,style:{text:spaced(v),fontSize:LS,fontFamily:LF,fill:'#000',align:'right',verticalAlign:'middle'}};
     }},
    {type:'custom',name:'xLabels',z:9,silent:true,clip:false,data:xTicks,
     encode:{x:0},
     renderItem:function(p,api){
       var v=api.value(0),c=api.coord([v,-100]);
       return {type:'text',x:c[0]-8,y:c[1]+43,scaleX:SX,style:{text:spaced(v),fontSize:LS,fontFamily:LF,fill:'#000',align:'center',verticalAlign:'middle'}};
     }}
  ]
});
</script></body></html>
